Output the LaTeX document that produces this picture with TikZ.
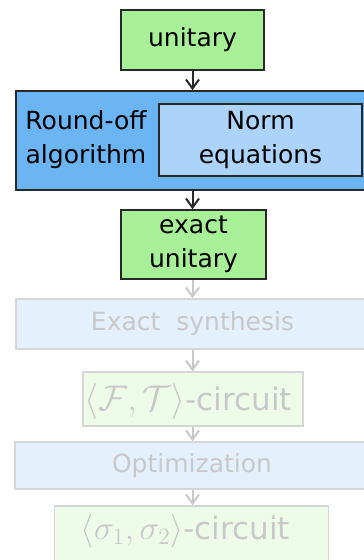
\documentclass[tikz,border=0pt]{standalone}
\usepackage{graphicx}
\usepackage{fontspec}
\setmainfont{DejaVu Sans}
\usetikzlibrary{arrows.meta}
\definecolor{gfill}{RGB}{168,240,152}
\definecolor{bout}{RGB}{108,181,245}
\definecolor{binn}{RGB}{172,212,250}
\definecolor{dline}{RGB}{40,40,40}
\definecolor{fblue}{RGB}{228,240,252}
\definecolor{fgreen}{RGB}{238,251,232}
\definecolor{fline}{RGB}{214,214,214}
\definecolor{ftext}{RGB}{200,200,200}
\newcommand{\bigmath}[2]{\scalebox{#1}{\fontsize{20.74}{24}\selectfont$#2$}}
\tikzset{
  box/.style={draw=dline, line width=1.6pt, inner sep=0pt, align=center,
    font=\fontsize{25}{34}\selectfont},
  gbox/.style={box, fill=gfill},
  fbox/.style={draw=fline, line width=1.6pt, inner sep=0pt, align=center,
    text=ftext, font=\fontsize{25}{34}\selectfont},
  fbbox/.style={fbox, fill=fblue},
  fgbox/.style={fbox, fill=fgreen},
  ftxt/.style={fbox, draw=none, font=\fontsize{31}{34}\selectfont, anchor=base},
  arr/.style={draw=dline, line width=2pt, -{Straight Barb[length=9pt,width=13pt]}},
  farr/.style={draw=ftext, line width=2pt, -{Straight Barb[length=9pt,width=13pt]}},
}
\begin{document}
\begin{tikzpicture}[x=1pt,y=-1pt]
\useasboundingbox (0,0) rectangle (364,560);
\begin{scope}
\clip (0,0) rectangle (364,560);
\node[gbox, minimum width=143pt, minimum height=60pt] (u) at (192.5,40) {unitary};
\node[box, fill=bout, minimum width=356pt, minimum height=99pt] (ro) at (194,140.5) {};
\node[box, fill=binn, minimum width=203pt, minimum height=72pt] (ne) at (260.5,140) {Norm\\equations};
\node[align=center, inner sep=0pt, font=\fontsize{25}{34}\selectfont] (rt) at (86,140) {Round-off\\algorithm};
\node[gbox, minimum width=145pt, minimum height=69pt] (eu) at (193.5,244.5) {exact\\unitary};
\node[fbbox, minimum width=356pt, minimum height=50pt] (es) at (194,324) {Exact\ \ synthesis\hspace*{3pt}};
\node[fgbox, minimum width=220pt, minimum height=54pt] (ft) at (193,399) {};
\node[ftxt] (ftt) at (188,410) {\bigmath{1.72}{\langle\mathcal{F},\mathcal{T}\rangle}-circuit};
\node[fbbox, minimum width=357pt, minimum height=47pt] (op) at (193.5,465.5) {Optimization\hspace*{3pt}};
\node[fgbox, minimum width=274pt, minimum height=68pt] (sc) at (191.5,540) {};
\node[ftxt] (st) at (185.5,539) {\bigmath{1.62}{\langle\sigma_1,\sigma_2\rangle}-circuit};
\end{scope}
\draw[arr] (u.south) -- (u.south |- ro.north);
\draw[arr] (u.south |- ro.south) -- (u.south |- eu.north);
\draw[farr] (u.south |- eu.south) -- (u.south |- es.north);
\draw[farr] (u.south |- es.south) -- (u.south |- ft.north);
\draw[farr] (u.south |- ft.south) -- (u.south |- op.north);
\draw[farr] (u.south |- op.south) -- (u.south |- sc.north);
\end{tikzpicture}
\end{document}
